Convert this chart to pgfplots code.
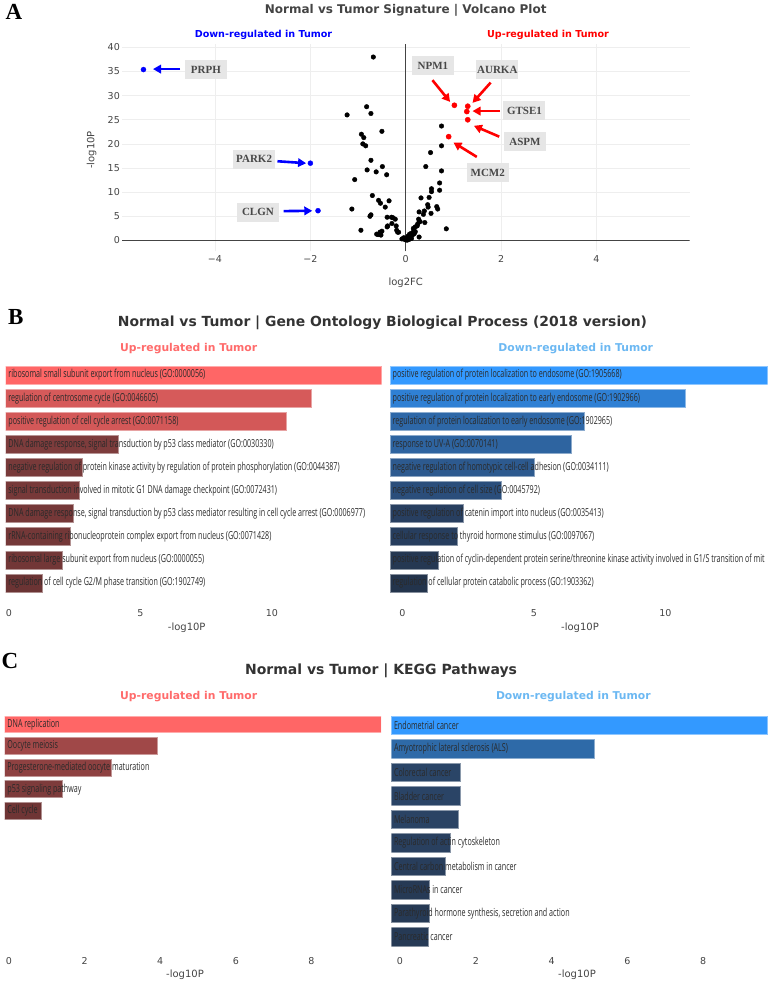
\documentclass[border=0pt]{standalone}
\usepackage{fontspec}
\usepackage{pgfplots}
\pgfplotsset{compat=1.18}
\usetikzlibrary{arrows.meta}
\setmainfont{DejaVu Sans}
\newfontfamily\cond{Open Sans}[FakeStretch=0.65]
\newfontfamily\tms{Liberation Serif}

\definecolor{tickgray}{HTML}{444444}
\definecolor{labgray}{HTML}{2A2A2A}
\definecolor{gridgray}{HTML}{EEEEEE}
\definecolor{zerogray}{HTML}{444444}
\definecolor{boxfill}{HTML}{E6E6E6}
\definecolor{boxtext}{HTML}{484848}
\definecolor{titlegray}{HTML}{444444}
\definecolor{titledark}{HTML}{333333}
\definecolor{upsalmon}{HTML}{FF6B6B}
\definecolor{downblue}{HTML}{6CB8F2}
\definecolor{vblue}{HTML}{0000FF}
\definecolor{vred}{HTML}{FF0000}
% GO up
\definecolor{gu1}{HTML}{FF6666}
\definecolor{gu2}{HTML}{D65A5A}
\definecolor{gu3}{HTML}{D35858}
\definecolor{gu4}{HTML}{7D3C3C}
\definecolor{gu5}{HTML}{783A3A}
\definecolor{gu6}{HTML}{773939}
\definecolor{gu7}{HTML}{753838}
\definecolor{gu8}{HTML}{743838}
\definecolor{gu9}{HTML}{723737}
\definecolor{gu10}{HTML}{6B3434}
% GO down
\definecolor{gd1}{HTML}{3399FF}
\definecolor{gd2}{HTML}{2F80D4}
\definecolor{gd3}{HTML}{2E68A8}
\definecolor{gd4}{HTML}{2E64A0}
\definecolor{gd5}{HTML}{2D5A8F}
\definecolor{gd6}{HTML}{2B4E7B}
\definecolor{gd7}{HTML}{283F60}
\definecolor{gd8}{HTML}{273E5E}
\definecolor{gd9}{HTML}{253852}
\definecolor{gd10}{HTML}{23344C}
% KEGG up
\definecolor{ku1}{HTML}{FF6666}
\definecolor{ku2}{HTML}{A04848}
\definecolor{ku3}{HTML}{8E4141}
\definecolor{ku4}{HTML}{7D3B3B}
\definecolor{ku5}{HTML}{6F3535}
% KEGG down
\definecolor{kd1}{HTML}{3399FF}
\definecolor{kd2}{HTML}{2E6AA8}
\definecolor{kd3}{HTML}{2A4567}
\definecolor{kd4}{HTML}{2A4466}
\definecolor{kd5}{HTML}{2A4364}
\definecolor{kd6}{HTML}{29405F}
\definecolor{kd7}{HTML}{283E5C}
\definecolor{kd8}{HTML}{263A55}
\definecolor{kd9}{HTML}{263A55}
\definecolor{kd10}{HTML}{263A55}

\pgfplotsset{
  barax/.style={scale only axis, anchor=north west, enlargelimits=false,
    xmin=0, y dir=reverse, axis line style={draw=none}, major tick length=0pt,
    ytick=\empty, clip=true,
    /pgf/number format/assume math mode=true,
    tick label style={font=\fontsize{9.5}{11}\selectfont, text=tickgray}},
  gb/.style={xbar, bar shift=0pt, bar width=0.78, fill=#1, draw=#1!55!white, line width=0.7pt},
}
\newcommand{\lab}[2]{\node[anchor=west, inner sep=0pt, xshift=2.5pt, font=\cond\fontsize{11}{13}\selectfont, text=labgray] at (axis cs:0,#1) {#2};}
\newcommand{\gbox}[3]{\node[fill=boxfill, text=boxtext, font=\tms\bfseries\fontsize{11}{11}\selectfont, minimum width=42pt, minimum height=19pt, inner sep=1pt] at (axis cs:#1,#2) {#3};}

\begin{document}
\begin{tikzpicture}
\useasboundingbox (0pt,0pt) rectangle (770pt,-984pt);

% ---------------- Panel A: volcano ----------------
\node[font=\tms\bfseries\fontsize{23}{23}\selectfont] at (14pt,-12pt) {A};
\node[font=\bfseries\fontsize{12}{14}\selectfont, text=titlegray] at (405.7pt,-10pt) {Normal vs Tumor Signature | Volcano Plot};
\node[font=\bfseries\fontsize{9.6}{12}\selectfont, text=vblue] at (263.5pt,-35.3pt) {Down-regulated in Tumor};
\node[font=\bfseries\fontsize{9.6}{12}\selectfont, text=vred] at (548pt,-35.3pt) {Up-regulated in Tumor};
\node[rotate=90, font=\fontsize{10}{12}\selectfont, text=tickgray] at (91.7pt,-150pt) {-log10P};
\node[font=\fontsize{10}{12}\selectfont, text=tickgray] at (405.7pt,-282.7pt) {log2FC};

\begin{axis}[at={(122pt,-44pt)}, anchor=north west, scale only axis,
  width=567.5pt, height=207.5pt,
  xmin=-5.95, xmax=5.95, ymin=-2.3, ymax=40.7,
  axis line style={draw=none}, major tick length=0pt,
  xtick={-4,-2,0,2,4}, xticklabels={−4,−2,0,2,4},
  ytick={0,5,...,40},
  grid=major, grid style={color=gridgray, line width=0.7pt},
  /pgf/number format/assume math mode=true,
  tick label style={font=\fontsize{9.5}{11}\selectfont, text=tickgray},
  xticklabel style={anchor=north, inner sep=0pt, yshift=-4pt},
  yticklabel style={anchor=east, inner sep=0pt, xshift=-2pt},
  clip=true]
\draw[zerogray, line width=1pt] (axis cs:0,-2.3) -- (axis cs:0,40.7);
\draw[zerogray, line width=1pt] (axis cs:-5.95,0) -- (axis cs:5.95,0);
\addplot[only marks, mark=*, mark size=2.3pt, black] coordinates {
(-0.68,38.0) (-0.82,27.7) (-1.23,26.0) (-0.73,26.3) (-0.50,22.6) (-0.93,22.0)
(-0.88,21.3) (-0.90,20.0) (-0.84,19.6) (-0.73,16.6) (-0.49,15.3) (-0.81,14.6)
(-0.62,14.2) (-0.40,13.6) (-1.07,12.6) (-0.70,9.3) (-0.57,8.3) (-0.53,7.7)
(-0.35,8.2) (-0.43,6.9) (-1.13,6.5) (-0.73,5.3) (-0.75,5.0) (-0.39,4.8)
(-0.30,4.8) (-0.22,4.4) (-0.29,3.5) (-0.39,2.8) (-0.20,3.0) (-0.19,2.1)
(-0.15,1.7) (-0.94,2.1) (-0.50,1.9) (-0.56,1.3) (-0.52,1.1) (-0.58,1.2)
(-0.61,1.3) (-0.54,1.7) (-0.38,3.0) (-0.27,4.7) (-0.17,1.7)
(0.75,23.7) (0.75,19.6) (0.52,18.2) (0.42,15.3) (0.75,14.4) (0.71,11.9)
(0.54,10.7) (0.54,10.1) (0.71,10.4) (0.32,8.8) (0.49,8.9) (0.46,7.4)
(0.47,6.9) (0.65,7.0) (0.67,6.5) (0.28,5.9) (0.39,6.1) (0.53,5.6)
(0.37,5.4) (0.85,2.4) (0.27,4.4) (0.40,3.7) (0.28,3.8) (0.20,2.8)
(0.25,3.4) (0.17,2.1) (0.12,1.5) (0.28,0.7) (0.10,1.0) (0.04,0.6)
(-0.04,0.55) (-0.08,0.3) (0.00,0.1) (0.02,0.35) (0.07,0.2) (0.14,1.1)
(0.20,1.8) (0.30,3.9) (0.24,3.0) (0.16,2.5) (0.08,1.3) (0.05,0.9)
(0.18,1.4) (-0.02,0.2) (0.03,0.05) (0.12,0.4)
};
\addplot[only marks, mark=*, mark size=2.5pt, vblue] coordinates {
(-5.50,35.4) (-2.00,16.0) (-1.84,6.15)
};
\addplot[only marks, mark=*, mark size=2.6pt, vred] coordinates {
(1.02,28.0) (1.30,27.8) (1.28,26.7) (1.30,25.0) (0.90,21.5)
};
% annotation arrows
\draw[vblue, line width=2.6pt, -{Triangle[length=8pt,width=8.5pt]}] (axis cs:-4.73,35.5) -- (axis cs:-5.30,35.5);
\draw[vblue, line width=2.6pt, -{Triangle[length=8pt,width=8.5pt]}] (axis cs:-2.69,16.4) -- (axis cs:-2.09,16.0);
\draw[vblue, line width=2.6pt, -{Triangle[length=8pt,width=8.5pt]}] (axis cs:-2.56,6.07) -- (axis cs:-1.96,6.13);
\draw[vred, line width=2.6pt, -{Triangle[length=8pt,width=8.5pt]}] (axis cs:0.56,33.2) -- (axis cs:0.93,28.7);
\draw[vred, line width=2.6pt, -{Triangle[length=8pt,width=8.5pt]}] (axis cs:1.78,32.7) -- (axis cs:1.40,28.5);
\draw[vred, line width=2.6pt, -{Triangle[length=8pt,width=8.5pt]}] (axis cs:1.98,26.8) -- (axis cs:1.40,26.8);
\draw[vred, line width=2.6pt, -{Triangle[length=8pt,width=8.5pt]}] (axis cs:1.96,21.5) -- (axis cs:1.43,23.75);
\draw[vred, line width=2.6pt, -{Triangle[length=8pt,width=8.5pt]}] (axis cs:1.49,17.3) -- (axis cs:1.00,20.3);
\gbox{-4.19}{35.4}{PRPH}
\gbox{-3.18}{16.8}{PARK2}
\gbox{-3.10}{5.87}{CLGN}
\gbox{0.57}{36.2}{NPM1}
\gbox{1.92}{35.4}{AURKA}
\gbox{2.49}{26.9}{GTSE1}
\gbox{2.50}{20.4}{ASPM}
\gbox{1.72}{14.05}{MCM2}
\end{axis}

% ---------------- Panel B: GO ----------------
\node[font=\tms\bfseries\fontsize{23}{23}\selectfont] at (15.7pt,-316.7pt) {B};
\node[font=\bfseries\fontsize{13.9}{16}\selectfont, text=titledark] at (382.5pt,-322.7pt) {Normal vs Tumor | Gene Ontology Biological Process (2018 version)};
\node[font=\bfseries\fontsize{10.8}{13}\selectfont, text=upsalmon] at (188.7pt,-349pt) {Up-regulated in Tumor};
\node[font=\bfseries\fontsize{10.8}{13}\selectfont, text=downblue] at (575.7pt,-349pt) {Down-regulated in Tumor};
\node[font=\fontsize{10}{12}\selectfont, text=tickgray] at (186.7pt,-628pt) {-log10P};
\node[font=\fontsize{10}{12}\selectfont, text=tickgray] at (580pt,-628pt) {-log10P};

\begin{axis}[barax, at={(5.7pt,-363.5pt)}, width=376pt, height=231pt,
  xmax=14.3, ymin=-0.5, ymax=9.5, xtick={0,5,10},
  xticklabel style={anchor=north, inner sep=0pt, yshift=-14.4pt, xshift=3.3pt}]
\addplot[gb=gu1] coordinates {(14.3,0)};
\addplot[gb=gu2] coordinates {(11.63,1)};
\addplot[gb=gu3] coordinates {(10.68,2)};
\addplot[gb=gu4] coordinates {(4.30,3)};
\addplot[gb=gu5] coordinates {(2.90,4)};
\addplot[gb=gu6] coordinates {(2.79,5)};
\addplot[gb=gu7] coordinates {(2.59,6)};
\addplot[gb=gu8] coordinates {(2.47,7)};
\addplot[gb=gu9] coordinates {(2.15,8)};
\addplot[gb=gu10] coordinates {(1.41,9)};
\lab{0}{ribosomal small subunit export from nucleus (GO:0000056)}
\lab{1}{regulation of centrosome cycle (GO:0046605)}
\lab{2}{positive regulation of cell cycle arrest (GO:0071158)}
\lab{3}{DNA damage response, signal transduction by p53 class mediator (GO:0030330)}
\lab{4}{negative regulation of protein kinase activity by regulation of protein phosphorylation (GO:0044387)}
\lab{5}{signal transduction involved in mitotic G1 DNA damage checkpoint (GO:0072431)}
\lab{6}{DNA damage response, signal transduction by p53 class mediator resulting in cell cycle arrest (GO:0006977)}
\lab{7}{rRNA-containing ribonucleoprotein complex export from nucleus (GO:0071428)}
\lab{8}{ribosomal large subunit export from nucleus (GO:0000055)}
\lab{9}{regulation of cell cycle G2/M phase transition (GO:1902749)}
\end{axis}

\begin{axis}[barax, at={(390pt,-363.5pt)}, width=377.7pt, height=231pt,
  xmax=14.36, ymin=-0.5, ymax=9.5, xtick={0,5,10},
  xticklabel style={anchor=north, inner sep=0pt, yshift=-14.4pt, xshift=12.3pt}]
\addplot[gb=gd1] coordinates {(14.36,0)};
\addplot[gb=gd2] coordinates {(11.22,1)};
\addplot[gb=gd3] coordinates {(7.39,2)};
\addplot[gb=gd4] coordinates {(6.89,3)};
\addplot[gb=gd5] coordinates {(5.48,4)};
\addplot[gb=gd6] coordinates {(4.22,5)};
\addplot[gb=gd7] coordinates {(2.79,6)};
\addplot[gb=gd8] coordinates {(2.57,7)};
\addplot[gb=gd9] coordinates {(1.85,8)};
\addplot[gb=gd10] coordinates {(1.42,9)};
\lab{0}{positive regulation of protein localization to endosome (GO:1905668)}
\lab{1}{positive regulation of protein localization to early endosome (GO:1902966)}
\lab{2}{regulation of protein localization to early endosome (GO:1902965)}
\lab{3}{response to UV-A (GO:0070141)}
\lab{4}{negative regulation of homotypic cell-cell adhesion (GO:0034111)}
\lab{5}{negative regulation of cell size (GO:0045792)}
\lab{6}{positive regulation of catenin import into nucleus (GO:0035413)}
\lab{7}{cellular response to thyroid hormone stimulus (GO:0097067)}
\lab{8}{positive regulation of cyclin-dependent protein serine/threonine kinase activity involved in G1/S transition of mit}
\lab{9}{regulation of cellular protein catabolic process (GO:1903362)}
\end{axis}

% ---------------- Panel C: KEGG ----------------
\node[font=\tms\bfseries\fontsize{23}{23}\selectfont] at (10pt,-661pt) {C};
\node[font=\bfseries\fontsize{14}{16}\selectfont, text=titledark] at (381pt,-671pt) {Normal vs Tumor | KEGG Pathways};
\node[font=\bfseries\fontsize{10.8}{13}\selectfont, text=upsalmon] at (188.7pt,-696.7pt) {Up-regulated in Tumor};
\node[font=\bfseries\fontsize{10.8}{13}\selectfont, text=downblue] at (573.3pt,-696.7pt) {Down-regulated in Tumor};
\node[font=\fontsize{10}{12}\selectfont, text=tickgray] at (185pt,-974.3pt) {-log10P};
\node[font=\fontsize{10}{12}\selectfont, text=tickgray] at (577pt,-974.3pt) {-log10P};

\begin{axis}[barax, at={(4.7pt,-713.75pt)}, width=376.3pt, height=235pt,
  xmax=9.955, ymin=-0.49, ymax=10.39, xtick={0,2,4,6,8},
  xticklabel style={anchor=north, inner sep=0pt, yshift=-8.5pt, xshift=4.3pt}]
\addplot[gb=ku1] coordinates {(9.955,0)};
\addplot[gb=ku2] coordinates {(4.04,1)};
\addplot[gb=ku3] coordinates {(2.81,2)};
\addplot[gb=ku4] coordinates {(1.52,3)};
\addplot[gb=ku5] coordinates {(0.98,4)};
\lab{0}{DNA replication}
\lab{1}{Oocyte meiosis}
\lab{2}{Progesterone-mediated oocyte maturation}
\lab{3}{p53 signaling pathway}
\lab{4}{Cell cycle}
\end{axis}

\begin{axis}[barax, at={(391.3pt,-713.75pt)}, width=376.4pt, height=235pt,
  xmax=9.93, ymin=-0.5, ymax=9.5, xtick={0,2,4,6,8},
  xticklabel style={anchor=north, inner sep=0pt, yshift=-8.5pt, xshift=8.7pt}]
\addplot[gb=kd1] coordinates {(9.93,0)};
\addplot[gb=kd2] coordinates {(5.35,1)};
\addplot[gb=kd3] coordinates {(1.83,2)};
\addplot[gb=kd4] coordinates {(1.81,3)};
\addplot[gb=kd5] coordinates {(1.76,4)};
\addplot[gb=kd6] coordinates {(1.57,5)};
\addplot[gb=kd7] coordinates {(1.42,6)};
\addplot[gb=kd8] coordinates {(1.00,7)};
\addplot[gb=kd9] coordinates {(1.00,8)};
\addplot[gb=kd10] coordinates {(0.97,9)};
\lab{0}{Endometrial cancer}
\lab{1}{Amyotrophic lateral sclerosis (ALS)}
\lab{2}{Colorectal cancer}
\lab{3}{Bladder cancer}
\lab{4}{Melanoma}
\lab{5}{Regulation of actin cytoskeleton}
\lab{6}{Central carbon metabolism in cancer}
\lab{7}{MicroRNAs in cancer}
\lab{8}{Parathyroid hormone synthesis, secretion and action}
\lab{9}{Pancreatic cancer}
\end{axis}
\end{tikzpicture}
\end{document}
